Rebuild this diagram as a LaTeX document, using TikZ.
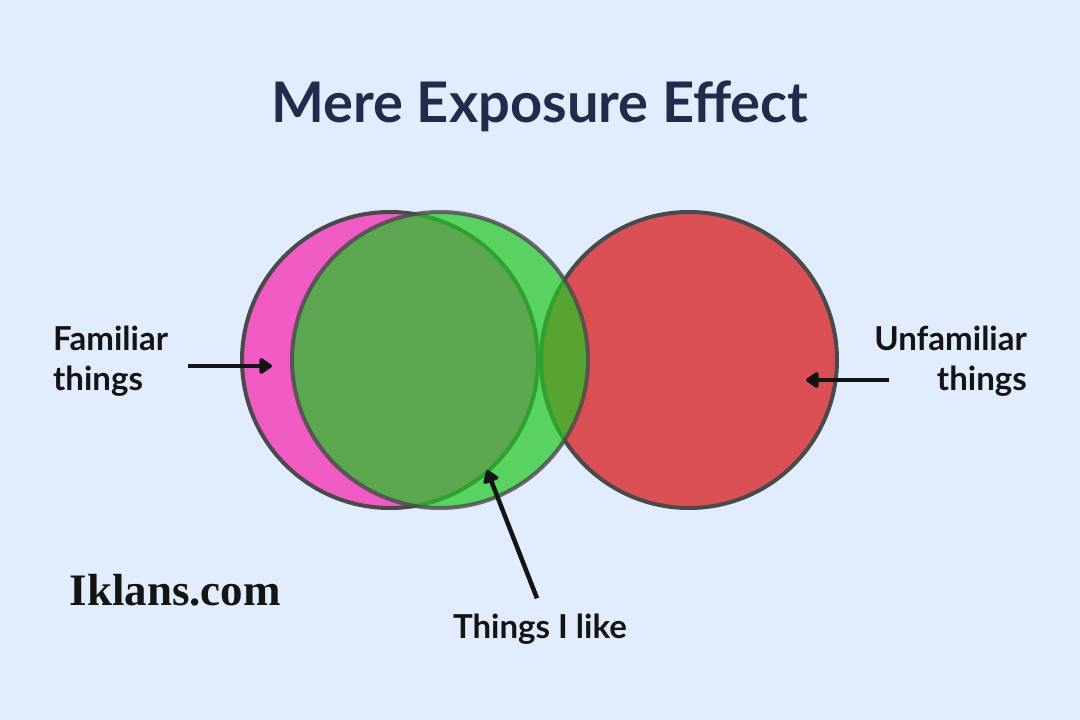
\documentclass[tikz,border=0pt]{standalone}
\usepackage{fontspec}
\setmainfont{Lato}
\newfontfamily\brandfont{Liberation Serif}
\usetikzlibrary{positioning}
\usetikzlibrary{arrows.meta}
\definecolor{bgBlue}{RGB}{225,237,253}
\definecolor{titleNavy}{RGB}{35,43,75}
\definecolor{edgeGray}{RGB}{74,74,76}
\definecolor{fillMagenta}{RGB}{240,91,196}
\definecolor{fillGreen}{RGB}{35,199,34}
\definecolor{fillRed}{RGB}{219,80,85}
\definecolor{inkBlack}{RGB}{20,20,20}
\tikzset{
    objCircle/.style={circle, minimum size=296pt, inner sep=0pt, draw=edgeGray, line width=4pt},
    objLabel/.style={font=\bfseries\fontsize{33}{40}\selectfont, text=inkBlack, inner sep=0pt},
    arrow/.style={line width=4.5pt, -{Triangle[length=14pt,width=18pt,round]}, draw=inkBlack}
}
\begin{document}
\begin{tikzpicture}[x=1pt, y=-1pt]
    \fill[bgBlue] (0,0) rectangle (1080,720);
    \useasboundingbox (0,0) rectangle (1080,720);

    \node (title) [anchor=base, font=\bfseries\fontsize{56}{60}\selectfont, text=titleNavy] at (540,122) {Mere Exposure Effect};

    \node (familiar) [objCircle, fill=fillMagenta] at (390,360) {};
    \node (unfamiliar) [objCircle, fill=fillRed] at (689,360) {};
    \node (liked) [objCircle, fill=fillGreen, fill opacity=0.71, draw opacity=0.8] at (440,360) {};

    \node (famText) [objLabel, align=left, anchor=west] at (53,361) {Familiar\\things};
    \node (unfText) [objLabel, align=right, anchor=east] at (1027,361) {Unfamiliar\\things};
    \node (likeText) [objLabel, anchor=base] at (540,638) {Things I like};
    \node (brand) [anchor=base west, font=\brandfont\bfseries\fontsize{45}{50}\selectfont, text=inkBlack] at (66,605) {Iklans.com};

    \coordinate (famTip) at (272,366);
    \coordinate (unfTip) at (806,380);
    \coordinate (likeTip) at (487,470);

    \draw [arrow] ([xshift=20pt]famText.east |- famTip) -- (famTip);
    \draw [arrow] ([xshift=15pt]unfText.west |- unfTip) -- (unfTip);
    \draw [arrow] ([xshift=-3pt,yshift=15pt]likeText.north) -- (likeTip);
\end{tikzpicture}
\end{document}
